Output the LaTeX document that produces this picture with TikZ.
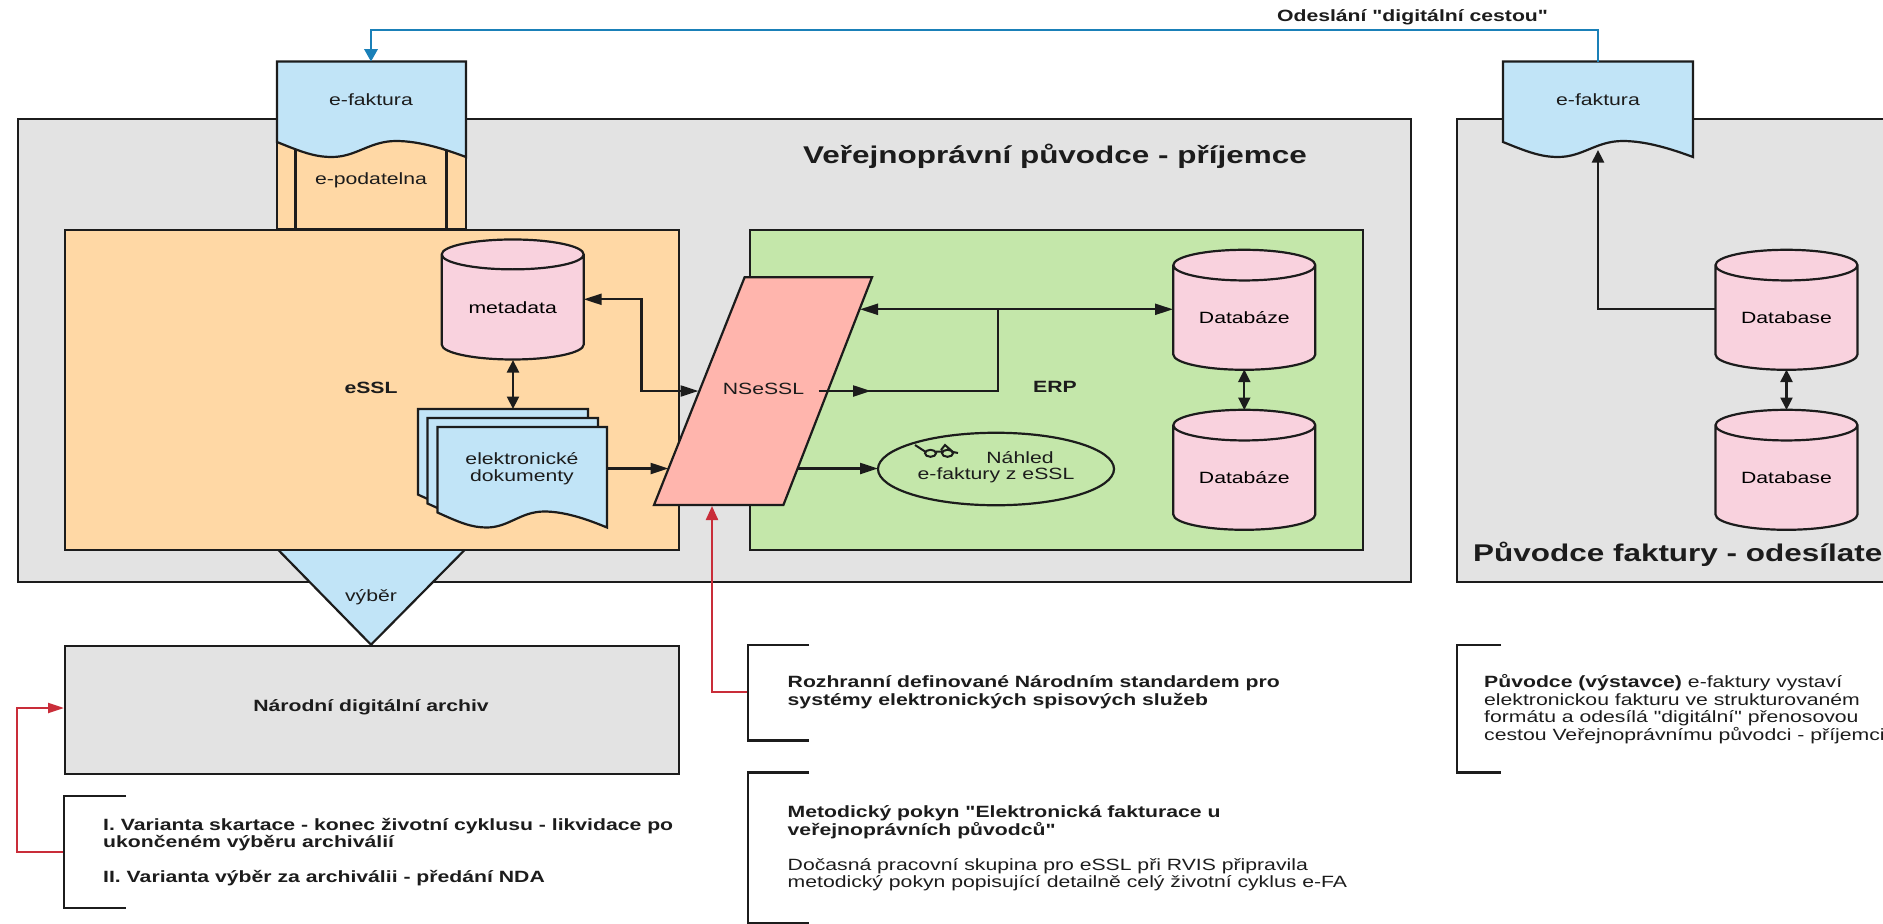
\documentclass[tikz,border=0pt]{standalone}
\usepackage{fontspec}
\setmainfont[FakeStretch=1.3,Ligatures=TeXReset]{Liberation Sans}
\usetikzlibrary{arrows.meta,shapes.geometric}
\definecolor{cgray}{HTML}{E3E3E3}
\definecolor{corange}{HTML}{FFD8A5}
\definecolor{cgreen}{HTML}{C4E7AA}
\definecolor{cblue}{HTML}{C1E4F7}
\definecolor{cpink}{HTML}{F9D2DE}
\definecolor{csalmon}{HTML}{FFB5AD}
\definecolor{cred}{HTML}{C92D39}
\definecolor{cline}{HTML}{1A80B8}
\definecolor{cink}{HTML}{1C1C1C}
\newcommand{\wavedoc}[5]{% x0 x1 ytop yleft fill
  \pgfmathsetmacro{\wA}{#1+.13*(#2-#1)}\pgfmathsetmacro{\wB}{#1+.20*(#2-#1)}\pgfmathsetmacro{\wC}{#1+.29*(#2-#1)}
  \pgfmathsetmacro{\wD}{#1+.42*(#2-#1)}\pgfmathsetmacro{\wE}{#1+.49*(#2-#1)}\pgfmathsetmacro{\wF}{#1+.63*(#2-#1)}
  \pgfmathsetmacro{\wG}{#1+.76*(#2-#1)}\pgfmathsetmacro{\wH}{#1+.90*(#2-#1)}
  \pgfmathsetmacro{\yA}{#4+10}\pgfmathsetmacro{\yB}{#4+15}\pgfmathsetmacro{\yC}{#4-1}\pgfmathsetmacro{\yD}{#4+8}
  \draw[shapeline,fill=#5] (#1,#3) -- (#2,#3) -- (#2,\yB)
    .. controls (\wH,\yD) and (\wG,\yC) .. (\wF,\yC)
    .. controls (\wE,\yC) and (\wD,\yB) .. (\wC,\yB)
    .. controls (\wB,\yB) and (\wA,\yA) .. (#1,#4) -- cycle;}
\tikzset{
  x=1pt,y=-1pt,
  shapeline/.style={draw=cink,line width=2.2pt,line join=miter},
  panel/.style={shapeline,rectangle,inner sep=0pt,anchor=north west},
  dbcyl/.style={shapeline,cylinder,shape border rotate=90,shape aspect=0.338,fill=cpink,minimum width=142pt,minimum height=120pt,inner sep=0pt,font=\bodyfont},
  txt/.style={inner sep=0pt,text=cink,font=\bodyfont},
  btxt/.style={inner sep=0pt,text=cink,font=\bodyfont\bfseries},
  note/.style={inner sep=0pt,text=cink,font=\bodyfont,align=left,anchor=west},
  bracket/.style={draw=cink,line width=2.2pt},
  conn/.style={draw=cink,line width=2.2pt},
  hh/.style={-{Triangle[length=18pt,width=11pt]}},
  hb/.style={{Triangle[length=18pt,width=11pt]}-{Triangle[length=18pt,width=11pt]}},
  vb/.style={{Triangle[length=12.5pt,width=12pt]}-{Triangle[length=12.5pt,width=12pt]}},
  vv/.style={-{Triangle[length=12.5pt,width=12pt]}},
  redc/.style={draw=cred,line width=2.2pt},
  bluec/.style={draw=cline,line width=2.2pt},
}
\newcommand{\bodyfont}{\fontsize{16.3}{17.6}\selectfont}
\newcommand{\titlefont}{\fontsize{24.2}{26}\selectfont\bfseries}
\begin{document}
\begin{tikzpicture}
\useasboundingbox (0,0) rectangle (1883,924);
\clip (0,0) rectangle (1883,924);
% large panels
\node[panel,fill=cgray,minimum width=1393pt,minimum height=463pt] (recipient) at (17,118) {};
\node[panel,fill=cgray,minimum width=460pt,minimum height=463pt] (sender) at (1456,118) {};
% archive + selection
\node[panel,fill=cgray,minimum width=614pt,minimum height=128pt] (nda) at (64,644.7) {};
\node[btxt] (ndat) at (371,707.5) {Národní digitální archiv};
\draw[shapeline,fill=cblue] (277,548.6) -- (466,548.6) -- (371,644.7) -- cycle;
\node[txt] (vyber) at (371,597) {výběr};
% e-podatelna
\draw[shapeline,fill=corange] (277,130) rectangle (466,229);
\draw[shapeline] (295.5,130) -- (295.5,229) (446.5,130) -- (446.5,229);
\node[txt] (epod) at (371,180) {e-podatelna};
% eSSL / ERP
\node[panel,fill=corange,minimum width=614pt,minimum height=319.5pt] (essl) at (64,229.2) {};
\node[btxt] (essllab) at (371,387.5) {eSSL};
\node[panel,fill=cgreen,minimum width=613pt,minimum height=319.5pt] (erp) at (748.5,229.2) {};
\node[btxt] (erplab) at (1055,387) {ERP};
% e-faktura docs
\wavedoc{277}{466}{61.5}{142}{cblue}
\node[txt] (ef1) at (371,100) {e-faktura};
\wavedoc{1503}{1693}{61.5}{142}{cblue}
\node[txt] (ef2) at (1598,99.5) {e-faktura};
% databases
\node[dbcyl] (meta) at (512.7,307.5) {metadata};
\node[dbcyl] (db1) at (1244.3,318) {Databáze};
\node[dbcyl] (db2) at (1244.3,478) {Databáze};
\node[dbcyl] (db3) at (1786.5,318) {Database};
\node[dbcyl] (db4) at (1786.5,478) {Database};
% stacked documents
\wavedoc{418}{588}{409}{494.6}{cblue}
\wavedoc{427.5}{598}{418}{503.5}{cblue}
\wavedoc{437.5}{607}{427}{512.5}{cblue}
\node[txt,align=center] (docs) at (522,468.5) {elektronické\\dokumenty};
% NSeSSL parallelogram
\draw[shapeline,fill=csalmon] (744.6,277.3) -- (872,277.3) -- (783.4,505) -- (654,505) -- cycle;
\node[txt] (ns) at (763.5,389) {NSeSSL};
% preview ellipse
\node[shapeline,ellipse,minimum width=236pt,minimum height=72.5pt,inner sep=0pt] (prev) at (996,469) {};
\node[txt] (prevA) at (1020,457.7) {Náhled};
\node[txt] (prevB) at (996,475.3) {e-faktury z eSSL};
\draw[draw=cink,line width=2pt] (930.5,453.3) ellipse (5.5pt and 3.5pt) (947.5,453.3) ellipse (5.5pt and 3.5pt)
  (915,445) -- (925,451.5) (936,451.5) -- (942,451.5) (953,452) -- (945,445) -- (941,450) (953,452) -- (958,453);
% free connector ends
\coordinate (metaR) at (583.7,299.3);
\coordinate (nsL) at (698.5,391);
\coordinate (docsR) at (607,468.5);
\coordinate (nsL2) at (668.5,468.5);
\coordinate (nsR) at (860,309.3);
\coordinate (db1L) at (1173,309.3);
\coordinate (jn) at (997.6,309.3);
\coordinate (nsM) at (818.7,391);
\coordinate (nsTip) at (871,391);
\coordinate (nsR2) at (798,468.5);
\coordinate (prevL) at (878,468.5);
\coordinate (db3L) at (1715,309);
\coordinate (ef2B) at (1598,150);
\coordinate (ef2T) at (1598,61.5);
\coordinate (ef1T) at (371,61.5);
\coordinate (ns2B) at (712,506);
\coordinate (brN) at (748,691.7);
\coordinate (brA) at (64,852);
\coordinate (ndaL) at (64,708);
% connectors
\draw[conn,hb] (metaR) -| (641.5,391) -- (nsL);
\draw[conn,vb] (513,360) -- (513,409);
\draw[conn,hh] (docsR) -- (nsL2);
\draw[conn,hb] (nsR) -- (db1L);
\draw[conn] (jn) |- (nsM);
\draw[conn,hh] (nsM) -- (nsTip);
\draw[conn,hh] (nsR2) -- (prevL);
\draw[conn,vb] (1244.3,369.5) -- (1244.3,410);
\draw[conn,vb] (1786.5,369.5) -- (1786.5,410);
\draw[conn,vv] (db3L) -| (ef2B);
\draw[bluec,-{Triangle[length=12.5pt,width=13.5pt]}] (ef2T) |- (371,30) -- (ef1T);
\draw[redc,-{Triangle[length=14pt,width=12pt]}] (brN) -| (ns2B);
\draw[redc,-{Triangle[length=16pt,width=10pt]}] (brA) -- (17,852) |- (ndaL);
% brackets
\draw[bracket] (126,796) -- (64,796) -- (64,908) -- (126,908);
\draw[bracket] (809,644.7) -- (748,644.7) -- (748,740.5) -- (809,740.5);
\draw[bracket] (809,772.5) -- (748,772.5) -- (748,923) -- (809,923);
\draw[bracket] (1501,644.7) -- (1456.7,644.7) -- (1456.7,772.5) -- (1501,772.5);
% titles
\node[inner sep=0pt,text=cink,font=\titlefont] (t1) at (1055,156) {Veřejnoprávní původce - příjemce};
\node[inner sep=0pt,text=cink,font=\titlefont,anchor=west] (t2) at (1473,554) {Původce faktury - odesílatel};
\node[inner sep=0pt,text=cink,font=\bodyfont\bfseries] (t3) at (1412.5,17) {Odeslání "digitální cestou"};
% notes
\node[note] (n1) at (103,852) {\textbf{I. Varianta skartace - konec životní cyklusu - likvidace po}\\\textbf{ukončeném výběru archiválií}\\[17.6pt]\textbf{II. Varianta výběr za archiválii - předání NDA}};
\node[note] (n2) at (787.5,692) {\textbf{Rozhranní definované Národním standardem pro}\\\textbf{systémy elektronických spisových služeb}};
\node[note] (n3) at (787.5,848.5) {\textbf{Metodický pokyn "Elektronická fakturace u}\\\textbf{veřejnoprávních původců"}\\[17.6pt]Dočasná pracovní skupina pro eSSL při RVIS připravila\\metodický pokyn popisující detailně celý životní cyklus e-FA};
\node[note] (n4) at (1484,709) {\textbf{Původce (výstavce)} e-faktury vystaví\\elektronickou fakturu ve strukturovaném\\formátu a odesílá "digitální" přenosovou\\cestou Veřejnoprávnímu původci - příjemci};
\end{tikzpicture}
\end{document}
